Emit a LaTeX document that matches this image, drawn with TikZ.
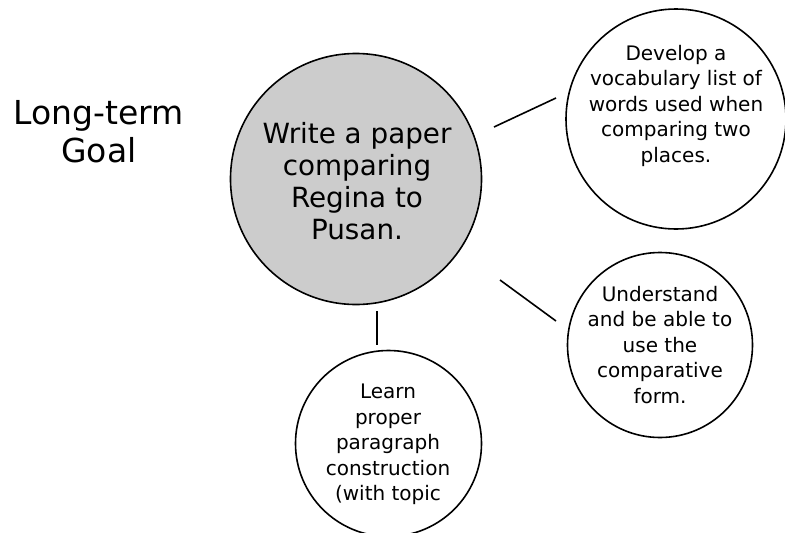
\documentclass[tikz,border=0pt]{standalone}
\usepackage{fontspec}
\setmainfont{DejaVu Sans}
\definecolor{goalgray}{RGB}{204,204,204}
\begin{document}
\begin{tikzpicture}[x=1pt,y=-1pt,
  bubble/.style={circle,draw=black,line width=1.6pt,inner sep=0pt},
  conn/.style={draw=black,line width=1.6pt},
  bigtext/.style={align=center,inner sep=0pt,font={\fontsize{27.8}{32}\selectfont}},
  smalltext/.style={align=center,inner sep=0pt,font={\fontsize{20}{25.5}\selectfont}},
  titletext/.style={align=center,inner sep=0pt,font={\fontsize{33}{38}\selectfont}}]
\useasboundingbox (0,0) rectangle (785,533);
\clip (0,0) rectangle (785,533);
% circles
\node[bubble,fill=goalgray,minimum size=251pt] (main) at (356,179) {};
\node[bubble,minimum size=220pt] (vocab) at (676,119) {};
\node[bubble,minimum size=185pt] (compar) at (660,345) {};
\node[bubble,minimum size=186pt] (para) at (388.5,443.5) {};
% texts
\node[titletext] (goal) at (99,131.5) {Long-term\\Goal};
\node[bigtext] (maintext) at (357,181) {Write a paper\\comparing\\Regina to\\Pusan.};
\node[smalltext] (vocabtext) at (676,105.8) {Develop a\\vocabulary list of\\words used when\\comparing two\\places.};
\node[smalltext] (compartext) at (660,345) {Understand\\and be able to\\use the\\comparative\\form.};
\node[smalltext,anchor=north] (paratext) at (388,384) {Learn\\proper\\paragraph\\construction\\(with topic};
% connector end points
\coordinate (a1) at (494,127);
\coordinate (a2) at (556,98);
\coordinate (b1) at (500,280);
\coordinate (b2) at (556,321);
\coordinate (c1) at (377,311);
\coordinate (c2) at (377,345);
\draw[conn] (a1) -- (a2);
\draw[conn] (b1) -- (b2);
\draw[conn] (c1) -- (c2);
\end{tikzpicture}
\end{document}
